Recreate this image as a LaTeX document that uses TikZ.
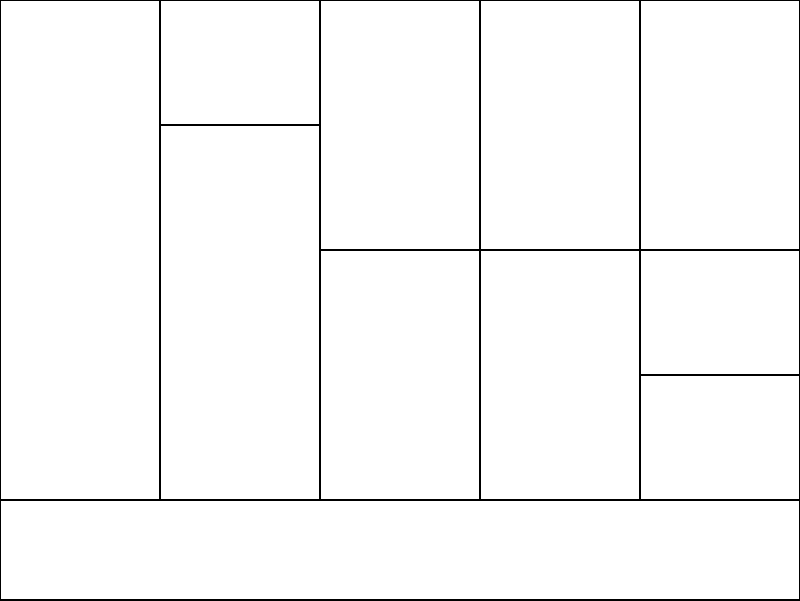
\documentclass[tikz,border=0pt]{standalone}
\usepackage{tikz}

\begin{document}
\begin{tikzpicture}
% Define styles
\tikzstyle{cell}=[draw, line width=0.6pt]

\useasboundingbox (0,0) rectangle (8,6);

% Top row columns
\draw[cell] (0,1) rectangle (1.6,6);
\draw[cell] (1.6,4.75) rectangle (3.2,6);
\draw[cell] (1.6,1) rectangle (3.2,4.75);
\draw[cell] (3.2,3.5) rectangle (4.8,6);
\draw[cell] (3.2,1) rectangle (4.8,3.5);
\draw[cell] (4.8,3.5) rectangle (6.4,6);
\draw[cell] (4.8,1) rectangle (6.4,3.5);
\draw[cell] (6.4,3.5) rectangle (8,6);
\draw[cell] (6.4,2.25) rectangle (8,3.5);
\draw[cell] (6.4,1) rectangle (8,2.25);

% Bottom strip
\draw[cell] (0,0) rectangle (8,1);

\end{tikzpicture}
\end{document}
